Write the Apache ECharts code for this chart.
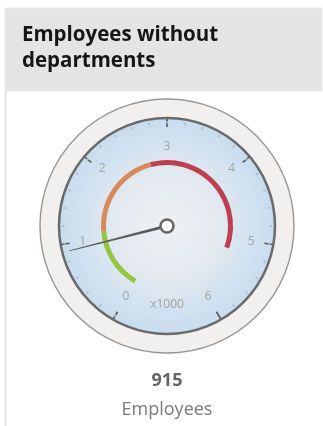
<!DOCTYPE html>
<html>
<head>
<meta charset="utf-8">
<script src="https://cdn.jsdelivr.net/npm/echarts@6/dist/echarts.min.js"></script>
<style>
  html, body { margin: 0; padding: 0; background: #ffffff; }
  #chart { width: 323px; height: 426px; }
</style>
</head>
<body>
<div id="chart"></div>
<script>
// Widget title and caption
const titleLines = ['Employees without', 'departments'];
const unitCaption = 'Employees';
const scaleCaption = 'x1000';

// Gauge scale (raw employee counts; labels show thousands)
const scaleMin = 0;
const scaleMax = 6000;
const scaleStep = 1000;

// Coloured ranges: [upper bound, colour]
const rangeEnds = [1100, 2700, 5200];
const rangeColors = ['#93c540', '#d98a5b', '#bd4050'];

// Current value
const employees = 915;

const cx = 167, cy = 226;
const faceR = 108;

const chart = echarts.init(document.getElementById('chart'));

const bandStops = rangeEnds.map((end, i) => [(end - scaleMin) / (scaleMax - scaleMin), rangeColors[i]]);
bandStops.push([1, 'rgba(0,0,0,0)']);

const font = "'Open Sans', 'Noto Sans', sans-serif";

chart.setOption({
  animation: false,
  title: {
    text: titleLines.join('\n'),
    left: 22,
    top: 22,
    padding: 0,
    textStyle: { fontFamily: font, fontSize: 20.5, fontWeight: 'bold', color: '#151515', lineHeight: 26 }
  },
  graphic: [
    { type: 'rect', z: 0, shape: { x: 5, y: 8, width: 317, height: 83 },
      style: { fill: '#e4e4e4', stroke: '#ececec', lineWidth: 1 } },
    { type: 'line', z: 0, shape: { x1: 5.5, y1: 91, x2: 5.5, y2: 426 },
      style: { stroke: '#dcdcdc', lineWidth: 1.5 } },
    // bezel
    { type: 'circle', z: 0, shape: { cx: cx, cy: cy, r: 127 },
      style: { fill: '#f2f0ee', stroke: '#979797', lineWidth: 1.4 } },
    // dial face
    { type: 'circle', z: 0, shape: { cx: cx, cy: cy, r: faceR },
      style: {
        fill: new echarts.graphic.RadialGradient(0.5, 0.5, 0.5, [
          { offset: 0, color: '#f0f1f3' },
          { offset: 0.5, color: '#e2e9f0' },
          { offset: 1, color: '#c6dcef' }
        ]),
        stroke: '#6a6a6a', lineWidth: 2.5
      } }
  ],
  series: [
    {
      // scale: ticks and labels
      type: 'gauge',
      center: [cx, cy],
      radius: faceR - 1,
      startAngle: 240,
      endAngle: -60,
      min: scaleMin,
      max: scaleMax,
      splitNumber: (scaleMax - scaleMin) / scaleStep,
      axisLine: { show: false, lineStyle: { width: 0 } },
      splitLine: { show: true, length: 8, distance: 0, lineStyle: { color: '#555', width: 1.6 } },
      axisTick: { show: true, splitNumber: 5, length: 2.5, distance: 2, lineStyle: { color: '#b4b8bc', width: 1.6 } },
      axisLabel: {
        show: true, distance: 10, color: '#a2a2a2', fontSize: 12, lineHeight: 12, fontFamily: font,
        align: 'center', verticalAlign: 'middle',
        padding: [4, 0, 0, 0],
        formatter: v => String(v / scaleStep)
      },
      pointer: { show: false },
      anchor: { show: false },
      title: { show: false },
      detail: { show: false },
      data: []
    },
    {
      // coloured ranges, needle and readout
      type: 'gauge',
      center: [cx, cy],
      radius: 66,
      startAngle: 240,
      endAngle: -60,
      min: scaleMin,
      max: scaleMax,
      axisLine: { show: true, lineStyle: { width: 5, color: bandStops } },
      splitLine: { show: false },
      axisTick: { show: false },
      axisLabel: { show: false },
      pointer: {
        show: true,
        icon: 'path://M0,100 L3,100 L2,0 L1,0 Z',
        width: 3,
        length: 101,
        offsetCenter: [0, 0],
        itemStyle: { color: '#5a5a5a' }
      },
      anchor: {
        show: true, showAbove: true, size: 13,
        itemStyle: { color: '#ffffff', borderColor: '#666666', borderWidth: 2.5 }
      },
      title: {
        show: true, offsetCenter: [0, 79], color: '#a2a2a2', fontSize: 12, fontFamily: font
      },
      detail: {
        show: true,
        offsetCenter: [0, 169],
        formatter: v => '{v|' + v + '}\n{u|' + unitCaption + '}',
        rich: {
          v: { fontFamily: font, fontSize: 18, fontWeight: 'bold', color: '#666666', lineHeight: 29, align: 'center' },
          u: { fontFamily: font, fontSize: 18, fontWeight: 'normal', color: '#7a7a7a', lineHeight: 29, align: 'center' }
        }
      },
      data: [{ value: employees, name: scaleCaption }]
    }
  ]
});
</script>
</body>
</html>
